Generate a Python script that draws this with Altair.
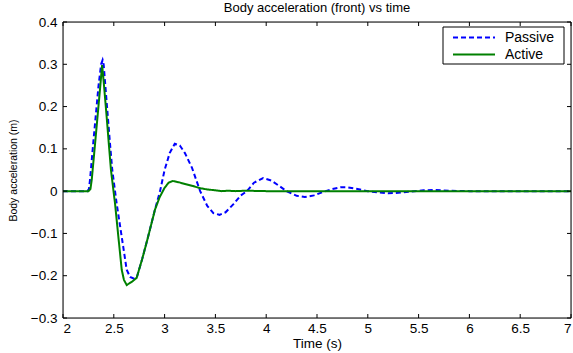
import altair as alt
import pandas as pd

# Passive (blue dashed)
t_passive = [2.0, 2.24, 2.255, 2.266, 2.30, 2.35, 2.375, 2.39, 2.40, 2.43, 2.46, 2.485, 2.528,
             2.578, 2.627, 2.66, 2.70, 2.725, 2.78, 2.83, 2.905, 2.955, 3.0, 3.05, 3.10, 3.15,
             3.2, 3.27, 3.35, 3.42, 3.48, 3.54, 3.6, 3.68, 3.75, 3.81, 3.88, 3.97, 4.05, 4.13,
             4.2, 4.3, 4.38, 4.47, 4.56, 4.65, 4.73, 4.8, 4.9, 5.0, 5.1, 5.2, 5.3, 5.42, 5.55,
             5.65, 5.8, 6.0, 7.0]
v_passive = [0.0, 0.0, 0.005, 0.027, 0.12, 0.25, 0.30, 0.31, 0.30, 0.21, 0.12, 0.05, -0.029,
             -0.108, -0.186, -0.203, -0.207, -0.205, -0.16, -0.115, -0.044, 0.0, 0.05, 0.09,
             0.112, 0.108, 0.09, 0.055, 0.0, -0.035, -0.052, -0.056, -0.05, -0.03, -0.01,
             0.0, 0.02, 0.031, 0.025, 0.012, 0.0, -0.011, -0.014, -0.01, -0.002, 0.005, 0.009,
             0.009, 0.005, 0.0, -0.003, -0.005, -0.004, -0.001, 0.002, 0.003, 0.001, 0.0, 0.0]

# Active (green solid)
t_active = [2.0, 2.25, 2.27, 2.283, 2.33, 2.36, 2.385, 2.40, 2.43, 2.455, 2.472, 2.512, 2.545,
            2.578, 2.60, 2.627, 2.68, 2.725, 2.78, 2.83, 2.905, 2.95, 3.0, 3.04, 3.08, 3.14,
            3.2, 3.28, 3.35, 3.42, 3.5, 3.56, 3.62, 3.7, 3.8, 4.0, 4.5, 5.0, 7.0]
v_active = [0.0, 0.0, 0.005, 0.027, 0.15, 0.23, 0.298, 0.26, 0.175, 0.10, 0.05, -0.029, -0.108,
            -0.186, -0.21, -0.222, -0.214, -0.205, -0.16, -0.115, -0.044, -0.015, 0.008, 0.02,
            0.024, 0.021, 0.017, 0.012, 0.007, 0.004, 0.002, 0.0, 0.001, 0.0, 0.001, 0.0, 0.0,
            0.0, 0.0]

series_names = ["Passive", "Active"]
series_colors = ["#0000ff", "#008000"]
series_dash = [[5, 3], [1, 0]]

x_ticks = [2, 2.5, 3, 3.5, 4, 4.5, 5, 5.5, 6, 6.5, 7]
y_ticks = [-0.3, -0.2, -0.1, 0, 0.1, 0.2, 0.3, 0.4]

df = pd.concat([
    pd.DataFrame({"t": t_passive, "v": v_passive, "series": series_names[0], "order": 0}),
    pd.DataFrame({"t": t_active, "v": v_active, "series": series_names[1], "order": 1}),
])

W, H = 508, 296
FONT = "Liberation Sans"

xs = alt.Scale(domain=[2, 7], nice=False, zero=False)
ys = alt.Scale(domain=[-0.3, 0.4], nice=False, zero=False)

lines = alt.Chart(df).mark_line(strokeWidth=2, clip=True).encode(
    x=alt.X("t:Q", scale=xs, title="Time (s)",
            axis=alt.Axis(values=x_ticks, tickSize=0, labelPadding=3, grid=False,
                          domain=False, titlePadding=2, format="~g",
                          labelFontSize=13.5, titleFontSize=13.5, titleFontWeight="normal")),
    y=alt.Y("v:Q", scale=ys, title="Body acceleration (m)",
            axis=alt.Axis(values=y_ticks, tickSize=0, labelPadding=6, grid=False,
                          domain=False, titlePadding=12, format="~g",
                          labelFontSize=13.5, titleFontSize=10.5, titleFontWeight="normal")),
    color=alt.Color("series:N", scale=alt.Scale(domain=series_names, range=series_colors),
                    legend=None),
    strokeDash=alt.StrokeDash("series:N", scale=alt.Scale(domain=series_names, range=series_dash),
                              legend=None),
    order="order:Q",
)

# frame
frame = alt.Chart(pd.DataFrame({"a": [0]})).mark_rect(
    fill=None, stroke="black", strokeWidth=1
).encode(x=alt.value(0), x2=alt.value(W), y=alt.value(0), y2=alt.value(H))

# inward ticks
xt = pd.DataFrame({"t": x_ticks})
yt = pd.DataFrame({"v": y_ticks})
tb = alt.Chart(xt).mark_rule(color="black").encode(x=alt.X("t:Q", scale=xs), y=alt.value(H), y2=alt.value(H - 4))
tt = alt.Chart(xt).mark_rule(color="black").encode(x=alt.X("t:Q", scale=xs), y=alt.value(0), y2=alt.value(4))
tl = alt.Chart(yt).mark_rule(color="black").encode(y=alt.Y("v:Q", scale=ys), x=alt.value(0), x2=alt.value(4))
tr = alt.Chart(yt).mark_rule(color="black").encode(y=alt.Y("v:Q", scale=ys), x=alt.value(W), x2=alt.value(W - 4))

# manual legend (MATLAB style)
one = pd.DataFrame({"a": [0]})
leg_box = alt.Chart(one).mark_rect(fill="white", stroke="black", strokeWidth=1).encode(
    x=alt.value(380), x2=alt.value(501), y=alt.value(5), y2=alt.value(42))
leg_layers = [leg_box]
for i, (name, col, dash) in enumerate(zip(series_names, series_colors, series_dash)):
    yy = 15.5 + 17 * i
    leg_layers.append(alt.Chart(one).mark_rule(color=col, strokeWidth=2, strokeDash=dash).encode(
        x=alt.value(390), x2=alt.value(432), y=alt.value(yy)))
    leg_layers.append(alt.Chart(one).mark_text(text=name, align="left", baseline="middle",
                                               font=FONT, fontSize=14, color="black").encode(
        x=alt.value(442), y=alt.value(yy)))

chart = alt.layer(lines, tb, tt, tl, tr, frame, *leg_layers).properties(
    width=W, height=H,
    title=alt.Title("Body acceleration (front) vs time", fontSize=13, font=FONT,
                    fontWeight="normal", offset=0, color="black"),
    padding={"left": 63, "top": 22, "right": 2, "bottom": 35},
    autosize=alt.AutoSizeParams(type="none"),
).configure_view(stroke=None).configure_axis(
    labelFont=FONT, titleFont=FONT, labelColor="black", titleColor="black"
).configure(background="white")

chart.save("out.html", embed_options={"renderer": "svg", "actions": False})
